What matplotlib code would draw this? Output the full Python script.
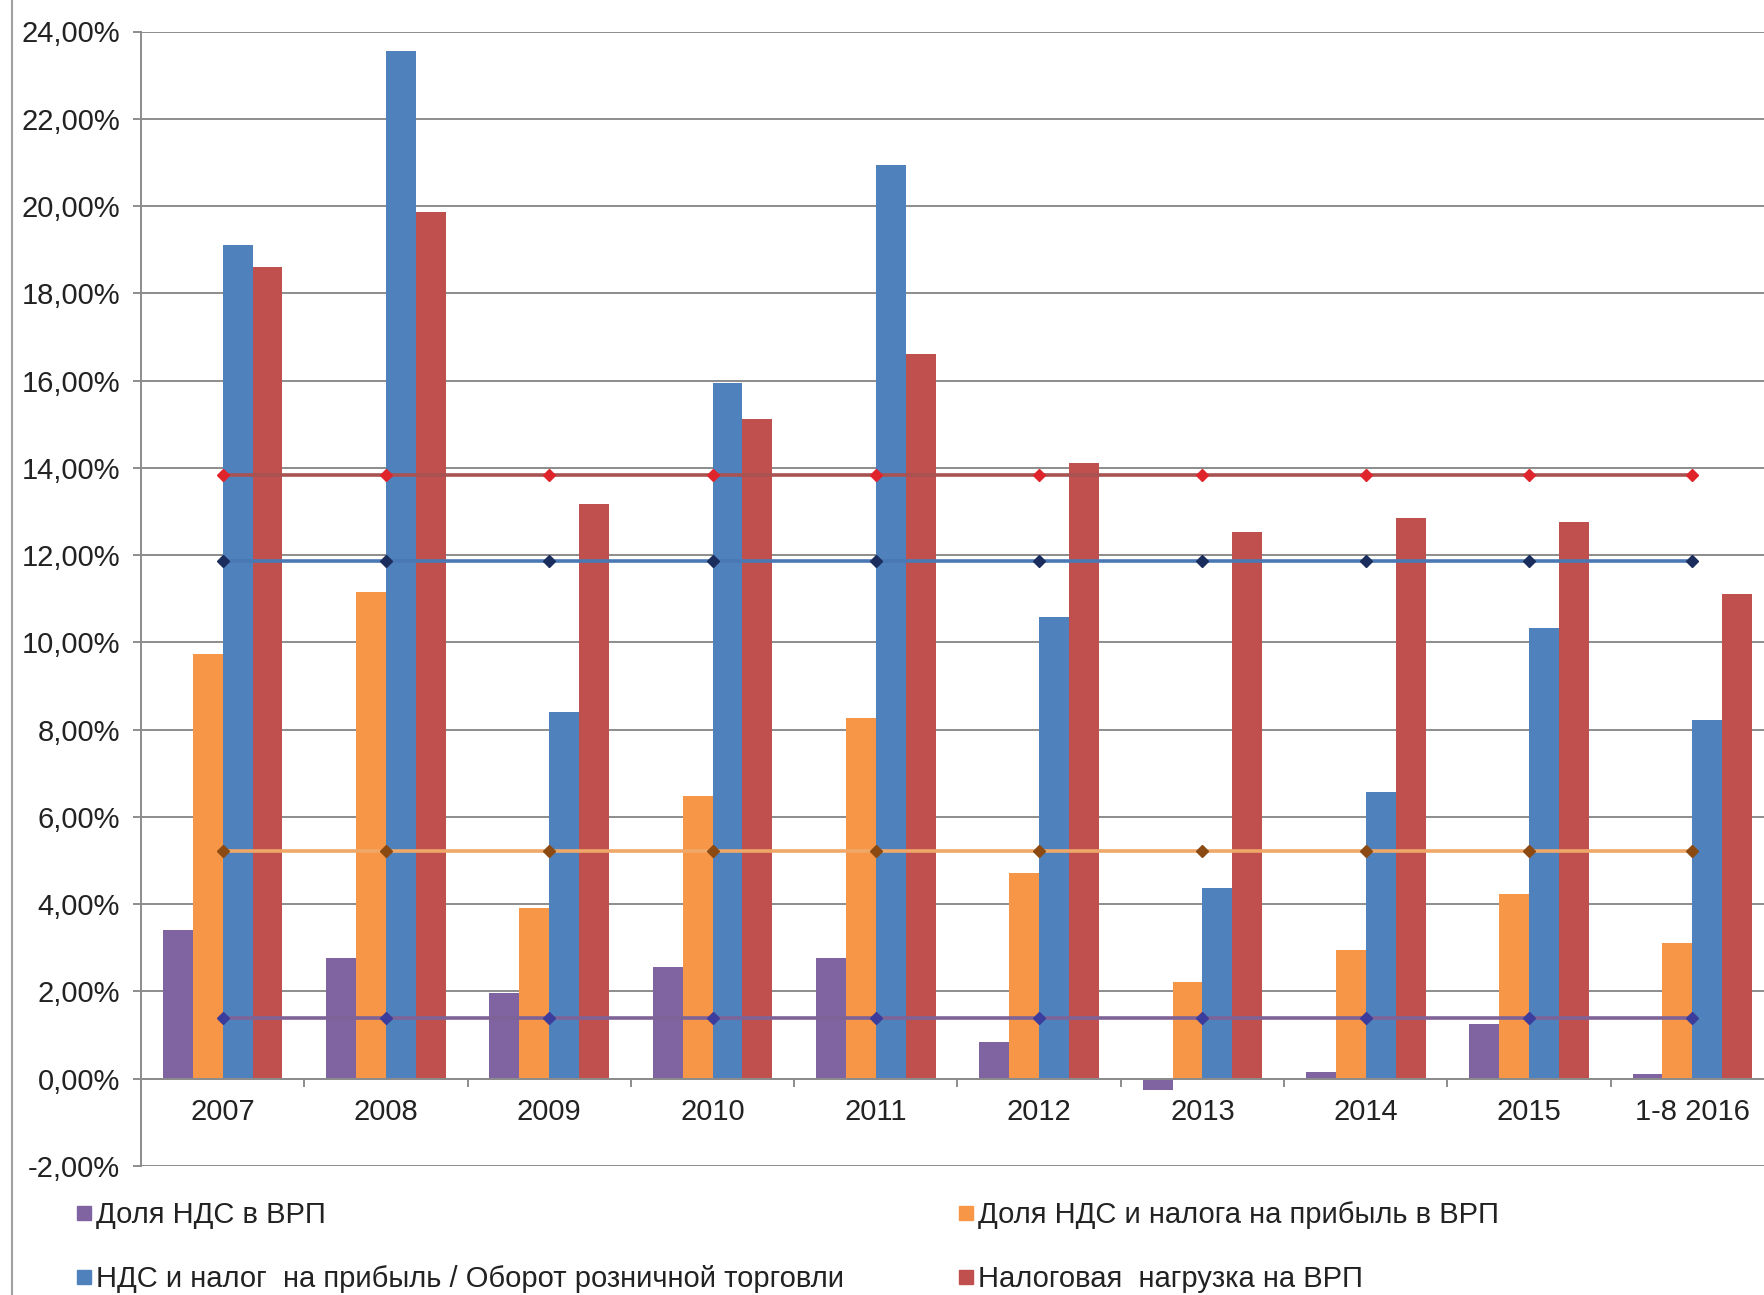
import matplotlib
matplotlib.use("Agg")
import matplotlib.pyplot as plt
from matplotlib.lines import Line2D
from matplotlib.ticker import FuncFormatter
import numpy as np

plt.rcParams['font.family'] = ['Liberation Sans', 'DejaVu Sans']

categories = ["2007", "2008", "2009", "2010", "2011", "2012", "2013", "2014", "2015", "1-8 2016"]

# values in percent
vat_share = [3.40, 2.76, 1.96, 2.55, 2.76, 0.85, -0.26, 0.15, 1.26, 0.10]
vat_profit_share = [9.74, 11.16, 3.92, 6.47, 8.27, 4.72, 2.22, 2.94, 4.23, 3.12]
vat_profit_retail = [19.10, 23.56, 8.40, 15.95, 20.95, 10.59, 4.38, 6.57, 10.34, 8.22]
tax_burden = [18.60, 19.87, 13.17, 15.13, 16.60, 14.12, 12.53, 12.84, 12.76, 11.11]

# average lines (one value per category)
avg_vat_share = [1.39] * 10
avg_vat_profit_share = [5.21] * 10
avg_vat_profit_retail = [11.86] * 10
avg_tax_burden = [13.84] * 10

labels = ["Доля НДС в ВРП",
          "Доля НДС и налога на прибыль в ВРП",
          "НДС и налог  на прибыль / Оборот розничной торговли",
          "Налоговая  нагрузка на ВРП"]
bar_colors = ["#8064A2", "#F79646", "#4F81BD", "#C0504D"]
line_colors = ["#7E6397", "#F0A868", "#4A78B4", "#A85252"]
marker_colors = ["#3C3C9C", "#8B4A12", "#1A2D5C", "#E0242C"]

W, H = 1765, 1295
fig = plt.figure(figsize=(W / 100, H / 100), dpi=100)
ax = fig.add_axes([141 / W, 129 / H, 1633 / W, (1263.5 - 129) / H])

x = np.arange(len(categories))
bw = 0.183
series = [vat_share, vat_profit_share, vat_profit_retail, tax_burden]
for i, (vals, col) in enumerate(zip(series, bar_colors)):
    ax.bar(x + (i - 1.5) * bw, vals, width=bw, color=col, zorder=2, linewidth=0)

avgs = [avg_vat_share, avg_vat_profit_share, avg_vat_profit_retail, avg_tax_burden]
for vals, lc, mc in zip(avgs, line_colors, marker_colors):
    ax.plot(x, vals, color=lc, lw=2.6, zorder=3, marker='D', markersize=6,
            markerfacecolor=mc, markeredgecolor=mc)

ax.set_xlim(-0.5, len(categories) - 0.5)
ax.set_ylim(-2, 24)
ax.set_yticks(np.arange(-2, 25, 2))
ax.yaxis.set_major_formatter(FuncFormatter(lambda v, p: f"{v:.2f}".replace('.', ',') + "%"))
ax.grid(axis='y', color='#8C8C8C', lw=1.4, zorder=0)
ax.set_axisbelow(True)

for s in ['top', 'right']:
    ax.spines[s].set_visible(False)
ax.spines['left'].set_color('#8C8C8C')
ax.spines['left'].set_linewidth(1.4)
ax.spines['bottom'].set_position(('data', 0))
ax.spines['bottom'].set_color('#8C8C8C')
ax.spines['bottom'].set_linewidth(1.4)

ax.set_xticks(x)
ax.set_xticklabels(categories)
ax.set_xticks(np.arange(-0.5, len(categories), 1), minor=True)
ax.tick_params(axis='x', which='major', length=0, pad=14, labelsize=21, colors='#222222')
ax.tick_params(axis='x', which='minor', length=6, width=1.4, color='#8C8C8C')
ax.tick_params(axis='y', length=6, width=1.4, color='#8C8C8C', pad=9, labelsize=21,
               labelcolor='#222222')

# outer frame line on the left
fig.add_artist(Line2D([12 / W, 12 / W], [0, 1], transform=fig.transFigure,
                      color='#A0A0A0', lw=1.5))

def handle(c):
    return Line2D([], [], marker='s', linestyle='none', markersize=10,
                  markerfacecolor=c, markeredgecolor=c)

leg_kw = dict(frameon=False, fontsize=21, handlelength=0.5, handletextpad=0.15,
              labelspacing=1.25, borderaxespad=0, borderpad=0, labelcolor='#222222')
fig.legend([handle(bar_colors[0]), handle(bar_colors[2])], [labels[0], labels[2]],
           loc='upper left', bbox_to_anchor=(77 / W, (H - 1201) / H), **leg_kw)
fig.legend([handle(bar_colors[1]), handle(bar_colors[3])], [labels[1], labels[3]],
           loc='upper left', bbox_to_anchor=(959 / W, (H - 1201) / H), **leg_kw)

fig.savefig("out.png", dpi=100, facecolor='white')
